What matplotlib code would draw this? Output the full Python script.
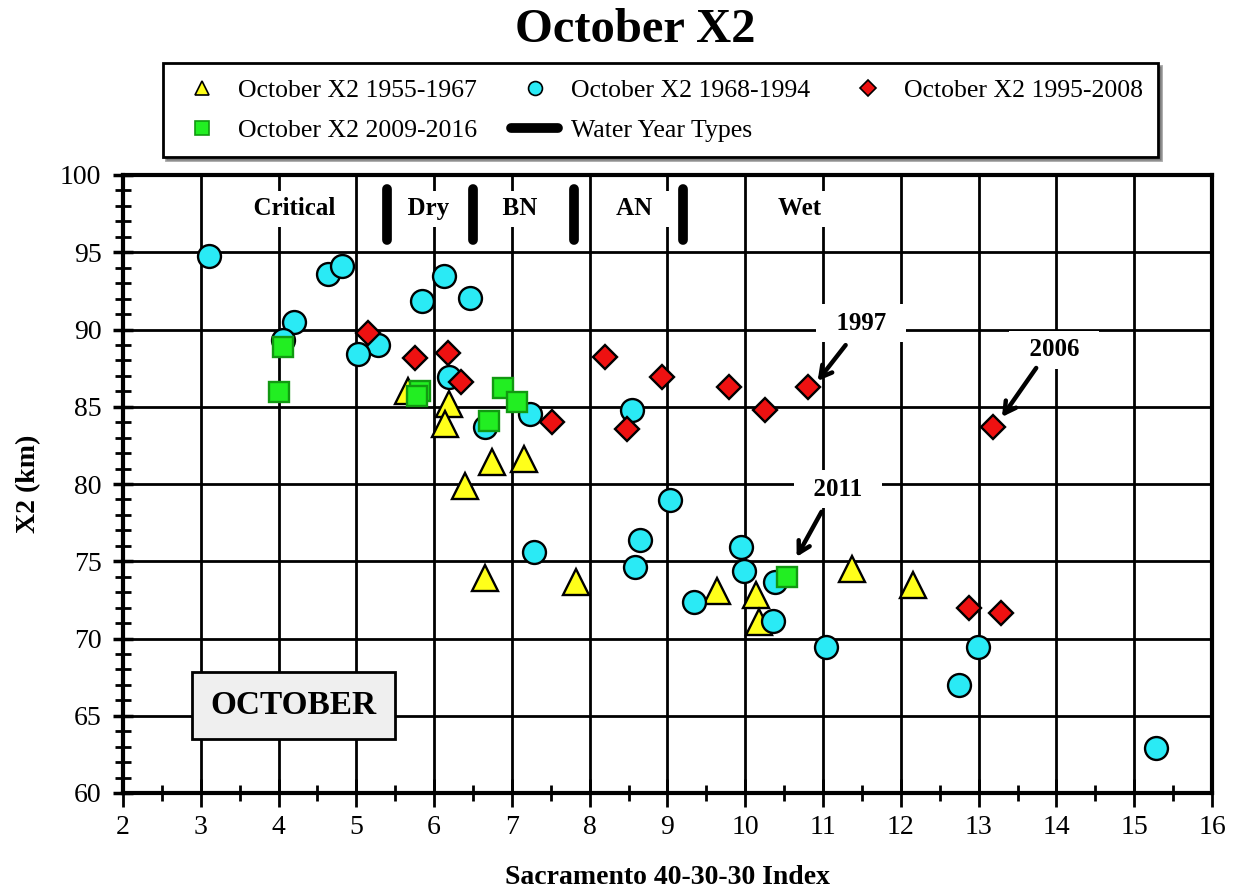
import numpy as np
import matplotlib
matplotlib.use("Agg")
import matplotlib.pyplot as plt
from matplotlib.lines import Line2D
from matplotlib.ticker import MultipleLocator

plt.rcParams['font.family'] = ['Liberation Serif', 'DejaVu Serif']

# October X2 by period (Sacramento 40-30-30 index, X2 km)
x_55_67 = [5.67, 6.19, 6.14, 6.74, 7.15, 6.40, 6.65, 7.82, 9.63, 10.14, 10.17, 11.37, 12.15]
y_55_67 = [86.0, 85.2, 83.9, 81.45, 81.65, 79.9, 73.9, 73.68, 73.1, 72.8, 71.1, 74.53, 73.46]

x_68_94 = [3.11, 4.64, 4.81, 4.20, 4.06, 5.28, 5.02, 6.13, 5.85, 6.46, 6.19, 6.66, 7.23, 7.29,
           8.65, 8.58, 9.03, 9.34, 9.95, 9.98, 10.38, 10.36, 8.54, 11.04, 12.99, 12.75, 15.28]
y_68_94 = [94.76, 93.57, 94.1, 90.49, 89.3, 89.0, 88.4, 93.46, 91.87, 92.07, 86.95, 83.7, 84.5, 75.6,
           76.4, 74.6, 78.96, 72.38, 75.94, 74.38, 73.68, 71.15, 84.79, 69.47, 69.47, 67.0, 62.9]

x_95_08 = [5.15, 5.75, 6.18, 6.34, 7.51, 8.20, 8.48, 8.93, 9.79, 10.25, 10.81, 13.19, 12.87, 13.29]
y_95_08 = [89.75, 88.13, 88.5, 86.6, 84.0, 88.24, 83.56, 86.95, 86.25, 84.79, 86.29, 83.7, 71.95, 71.67]

x_09_16 = [4.06, 4.0, 5.82, 5.78, 6.89, 7.07, 6.70, 10.53]
y_09_16 = [88.84, 85.97, 86.0, 85.7, 86.2, 85.3, 84.1, 74.0]

# water year type boundaries and labels
wy_bounds = [5.4, 6.5, 7.8, 9.2]
wy_labels = ["Critical", "Dry", "BN", "AN", "Wet"]
wy_label_x = [4.20, 5.93, 7.10, 8.58, 10.70]

# called-out years: label position, arrow start, arrow tip
year_labels = ["1997", "2006", "2011"]
year_text_xy = [(11.49, 90.4), (13.97, 88.7), (11.19, 79.65)]
year_arrow_from = [(11.29, 88.99), (13.74, 87.51), (10.98, 78.2)]
year_arrow_to = [(10.93, 86.67), (13.30, 84.34), (10.66, 75.28)]

fig = plt.figure(figsize=(12.36, 8.93), dpi=100)
ax = fig.add_axes([123 / 1236, 1 - 793 / 893, (1212 - 123) / 1236, (793 - 175) / 893])

ax.plot(x_55_67, y_55_67, ls="none", marker="^", ms=19, mfc="#ffff1a", mec="black", mew=1.7, zorder=3)
ax.plot(x_68_94, y_68_94, ls="none", marker="o", ms=16.5, mfc="#2aeaf5", mec="black", mew=1.7, zorder=3)
ax.plot(x_95_08, y_95_08, ls="none", marker="D", ms=12.5, mfc="#ee1111", mec="black", mew=1.7, zorder=3)
ax.plot(x_09_16, y_09_16, ls="none", marker="s", ms=14.5, mfc="#22ee22", mec="#119911", mew=1.7, zorder=3)

ax.vlines(wy_bounds, 95.8, 99.1, color="black", lw=7, capstyle="round", zorder=3)

for lab, xx in zip(wy_labels, wy_label_x):
    ax.text(xx, 97.8, "  " + lab + "  ", fontsize=18, fontweight="bold", ha="center", va="center",
            bbox=dict(boxstyle="square,pad=0.25", fc="white", ec="none"), zorder=2.5)

for lab, txy, a0, a1 in zip(year_labels, year_text_xy, year_arrow_from, year_arrow_to):
    ax.text(txy[0], txy[1], "  " + lab + "  ", fontsize=18, fontweight="bold", ha="center", va="center",
            bbox=dict(boxstyle="square,pad=0.3", fc="white", ec="none"), zorder=2.5)
    ax.annotate("", xy=a1, xytext=a0,
                arrowprops=dict(arrowstyle="->,head_length=0.8,head_width=0.45", lw=3.2, color="black",
                                shrinkA=0, shrinkB=0), zorder=4)

ax.text(4.19, 65.66, "OCTOBER", fontsize=24, fontweight="bold", ha="center", va="center",
        bbox=dict(boxstyle="square,pad=0.55", fc="#efefef", ec="black", lw=2), zorder=2.5)

ax.set_xlim(2, 16)
ax.set_ylim(60, 100)
ax.xaxis.set_major_locator(MultipleLocator(1))
ax.xaxis.set_minor_locator(MultipleLocator(0.5))
ax.yaxis.set_major_locator(MultipleLocator(5))
ax.yaxis.set_minor_locator(MultipleLocator(1))
ax.grid(True, which="major", color="black", lw=2)
ax.set_axisbelow(True)
for sp in ax.spines.values():
    sp.set_linewidth(3)

ax.tick_params(axis="x", which="major", direction="inout", length=20, width=2, labelsize=20, pad=6)
ax.tick_params(axis="x", which="minor", direction="inout", length=11, width=2)
ax.tick_params(axis="y", which="major", direction="inout", length=15, width=2.5, labelsize=20, pad=8)
ax.tick_params(axis="y", which="minor", direction="inout", length=12, width=2)

ax.set_xlabel("Sacramento 40-30-30 Index", fontsize=20, fontweight="bold", labelpad=18)
ax.set_ylabel("X2 (km)", fontsize=20, fontweight="bold", labelpad=14)

fig.text(635 / 1236, 1 - 30 / 893, "October X2", fontsize=35, fontweight="bold", ha="center", va="center")

handles = [
    Line2D([], [], ls="none", marker="^", ms=10, mfc="#ffff1a", mec="black", mew=1.2),
    Line2D([], [], ls="none", marker="s", ms=10, mfc="#22ee22", mec="#119911", mew=1.2),
    Line2D([], [], ls="none", marker="o", ms=10, mfc="#2aeaf5", mec="black", mew=1.2),
    Line2D([], [], color="black", lw=7, solid_capstyle="round"),
    Line2D([], [], ls="none", marker="D", ms=8, mfc="#ee1111", mec="black", mew=1.2),
]
labels = ["October X2 1955-1967", "October X2 2009-2016", "October X2 1968-1994",
          "Water Year Types", "October X2 1995-2008"]
leg = fig.legend(handles, labels, ncol=3, loc="lower left",
                 bbox_to_anchor=(163 / 1236, 1 - 157 / 893, (1158 - 163) / 1236, (157 - 65) / 893),
                 mode="expand", fontsize=18.5, frameon=True, fancybox=False, shadow=True,
                 edgecolor="black", framealpha=1, handlelength=1.8, handletextpad=0.5,
                 borderaxespad=0, labelspacing=0.65, borderpad=0.6)
leg.get_frame().set_linewidth(2)

fig.savefig("out.png", dpi=100)
